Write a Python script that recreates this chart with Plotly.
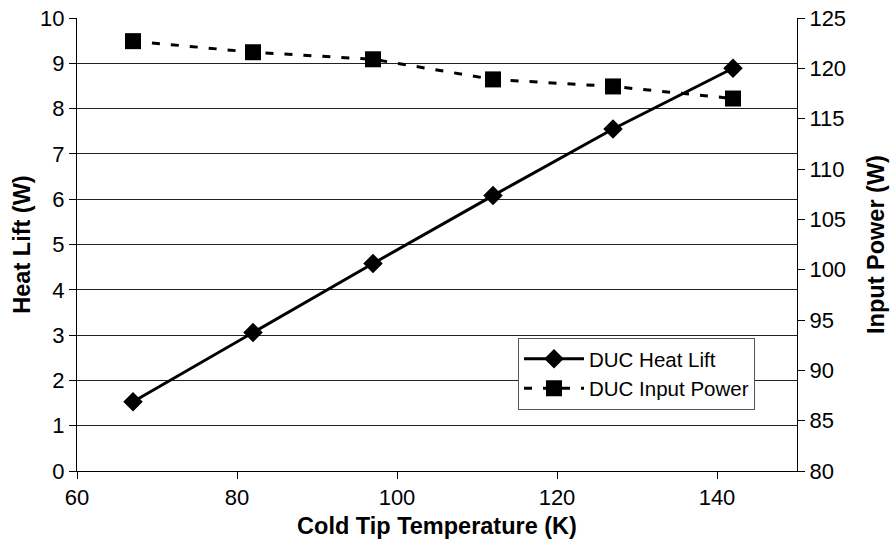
import plotly.graph_objects as go

temps = [67, 82, 97, 112, 127, 142]
heat_lift = [1.53, 3.06, 4.58, 6.08, 7.55, 8.89]
input_power = [122.7, 121.6, 120.9, 118.9, 118.2, 117.0]

x_ticks = [60, 80, 100, 120, 140]
left_ticks = list(range(0, 11))
right_ticks = list(range(80, 126, 5))

fig = go.Figure()
fig.add_trace(go.Scatter(
    x=temps, y=heat_lift, name="DUC Heat Lift", mode="lines+markers",
    line=dict(color="black", width=3),
    marker=dict(symbol="diamond", size=15, color="black"),
))
fig.add_trace(go.Scatter(
    x=temps, y=input_power, name="DUC Input Power", mode="lines+markers",
    line=dict(color="black", width=3, dash="8px,11px"),
    marker=dict(symbol="square", size=16, color="black"),
    yaxis="y2",
))

font = "Liberation Sans, Arial, sans-serif"
tickfont = dict(family=font, size=22, color="black")
titlefont = dict(family=font, size=23.5, color="black")
fig.update_layout(
    width=892, height=550,
    margin=dict(l=77, r=95, t=18, b=79),
    paper_bgcolor="white", plot_bgcolor="white",
    font=dict(family=font, color="black", size=18),
    showlegend=True,
    legend=dict(
        x=0.6125, y=0.294, xanchor="left", yanchor="top",
        bgcolor="white", bordercolor="#555", borderwidth=1,
        font=dict(family=font, size=20.5, color="black"), tracegroupgap=0,
        itemwidth=60,
    ),
    xaxis=dict(
        range=[60, 150], tickvals=x_ticks, showgrid=False,
        showline=True, linecolor="black", linewidth=1,
        ticks="outside", ticklen=7, tickcolor="black", tickfont=tickfont,
        title=dict(text="<b>Cold Tip Temperature (K)</b>", standoff=8, font=titlefont),
        zeroline=False, automargin=False,
    ),
    yaxis=dict(
        range=[0, 10], tickvals=left_ticks, showgrid=True,
        gridcolor="#222", gridwidth=1,
        showline=True, linecolor="black", linewidth=1,
        ticks="outside", ticklen=7, tickcolor="black", tickfont=tickfont,
        title=dict(text="<b>Heat Lift (W)</b>", standoff=2, font=titlefont),
        zeroline=False, automargin=False,
    ),
    yaxis2=dict(
        range=[80, 125], tickvals=right_ticks, overlaying="y", side="right",
        showgrid=False, showline=True, linecolor="black", linewidth=1,
        ticks="outside", ticklen=7, tickcolor="black", tickfont=tickfont,
        title=dict(text="<b>Input Power (W)</b>", standoff=22, font=titlefont),
        zeroline=False, automargin=False,
    ),
)

fig.write_html("out.html", config={"displayModeBar": False},
               post_script="document.body.style.margin='0';")
